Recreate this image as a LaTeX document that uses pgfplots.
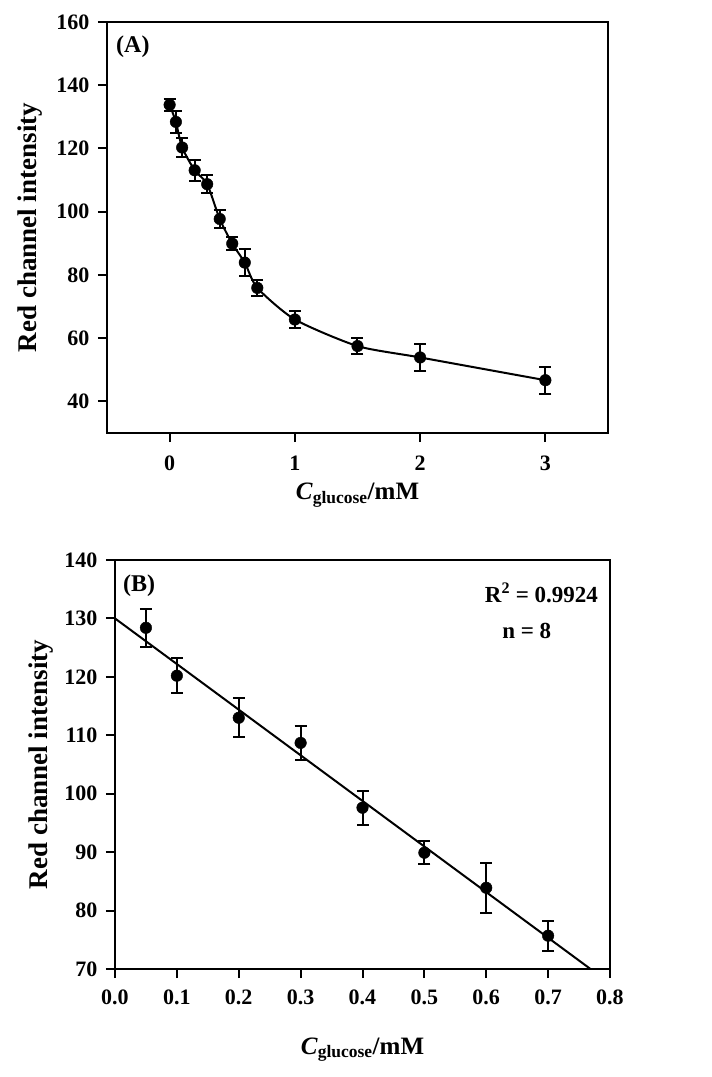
\documentclass[border=0pt]{standalone}
\usepackage{fontspec}
\setmainfont{Liberation Serif}
\usepackage{pgfplots}
\pgfplotsset{compat=1.18}
\pgfplotsset{
  myax/.style={
    scale only axis,
    axis line style={line width=2pt},
    tick style={line width=2pt, black},
    major tick length=9pt,
    tick align=outside,
    xtick pos=left, ytick pos=left,
    tick label style={font=\fontsize{22}{26}\selectfont\bfseries},
    yticklabel style={xshift=-5pt},
    /pgf/number format/assume math mode=true,
    xlabel style={font=\fontsize{25}{30}\selectfont\bfseries},
    ylabel style={font=\fontsize{27}{32}\selectfont\bfseries},
  },
  mypts/.style={
    only marks, mark=*, mark size=5.8pt, black,
    error bars/.cd, y dir=both, y explicit,
    error bar style={line width=2pt, black},
    error mark options={rotate=90, mark size=6pt, line width=2pt, black},
  },
}
\begin{document}
\begin{tikzpicture}
\useasboundingbox (0pt,0pt) rectangle (712pt,-1077pt);
% Panel A
\begin{axis}[myax,
  at={(107pt,-22pt)}, anchor=north west,
  width=501pt, height=411pt,
  xmin=-0.5, xmax=3.5, ymin=30, ymax=160,
  xtick={0,1,2,3},
  ytick={40,60,80,100,120,140,160},
  xticklabel style={yshift=-10pt},
  xlabel={\textit{C}\textsubscript{glucose}/mM},
  ylabel={Red channel intensity},
  xlabel style={at={(axis description cs:0.5,-0.163)}, anchor=base},
  ylabel style={at={(axis description cs:-0.14,0.5)}, anchor=base},
]
\addplot[line width=2pt, smooth, tension=0.4] coordinates {
(0,133.8) (0.05,128.4) (0.1,120.3) (0.2,113.1) (0.3,108.7) (0.4,97.7)
(0.5,89.9) (0.6,83.9) (0.7,75.9) (1,65.9) (1.5,57.5) (2,53.9) (3,46.7)};
\addplot[mypts] coordinates {
(0,133.8) +- (0,1.9)
(0.05,128.4) +- (0,3.4)
(0.1,120.3) +- (0,3.1)
(0.2,113.1) +- (0,3.3)
(0.3,108.7) +- (0,2.9)
(0.4,97.7) +- (0,2.9)
(0.5,89.9) +- (0,2.0)
(0.6,83.9) +- (0,4.3)
(0.7,75.9) +- (0,2.5)
(1,65.9) +- (0,2.7)
(1.5,57.5) +- (0,2.4)
(2,53.9) +- (0,4.4)
(3,46.7) +- (0,4.3)};
\node[anchor=north west, inner sep=0pt, font=\fontsize{24}{28}\selectfont\bfseries] at (rel axis cs:0.018,0.968) {(A)};
\end{axis}
% Panel B
\begin{axis}[myax,
  at={(115pt,-560pt)}, anchor=north west,
  width=495pt, height=409pt,
  xmin=0, xmax=0.8, ymin=70, ymax=140,
  xtick={0,0.1,0.2,0.3,0.4,0.5,0.6,0.7,0.8},
  xticklabels={0.0,0.1,0.2,0.3,0.4,0.5,0.6,0.7,0.8},
  xticklabel style={yshift=-8pt},
  ytick={70,80,90,100,110,120,130,140},
  xlabel={\textit{C}\textsubscript{glucose}/mM},
  ylabel={Red channel intensity},
  xlabel style={at={(axis description cs:0.5,-0.208)}, anchor=base},
  ylabel style={at={(axis description cs:-0.137,0.5)}, anchor=base},
]
\addplot[line width=2pt] coordinates {(0,130) (0.7685,70)};
\addplot[mypts] coordinates {
(0.05,128.4) +- (0,3.3)
(0.1,120.2) +- (0,3.0)
(0.2,113.0) +- (0,3.3)
(0.3,108.7) +- (0,2.9)
(0.4,97.6) +- (0,2.9)
(0.5,89.9) +- (0,2.0)
(0.6,83.9) +- (0,4.3)
(0.7,75.7) +- (0,2.6)};
\node[anchor=north west, inner sep=0pt, font=\fontsize{24}{28}\selectfont\bfseries] at (rel axis cs:0.016,0.963) {(B)};
\node[anchor=base east, inner sep=0pt, font=\fontsize{23}{27}\selectfont\bfseries] at (rel axis cs:0.976,0.897) {R\textsuperscript{2} = 0.9924};
\node[anchor=base west, inner sep=0pt, font=\fontsize{23}{27}\selectfont\bfseries] at (rel axis cs:0.782,0.809) {n = 8};
\end{axis}
\end{tikzpicture}
\end{document}
